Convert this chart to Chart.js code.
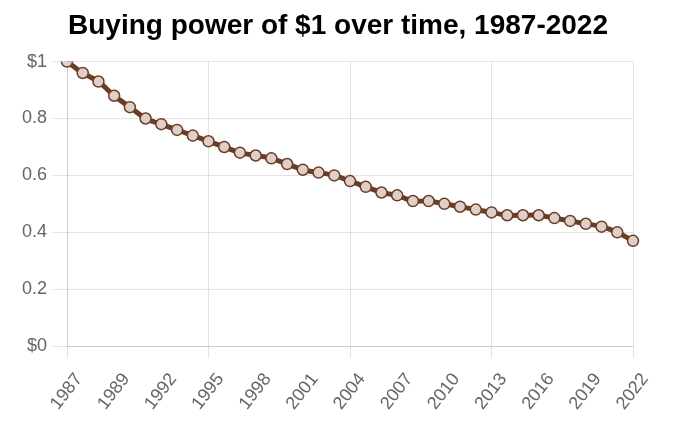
<!DOCTYPE html>
<html>
<head>
<meta charset="utf-8">
<script src="https://cdn.jsdelivr.net/npm/chart.js@4.4.0/dist/chart.umd.min.js"></script>
<style>
  html, body { margin: 0; padding: 0; background: #fff; }
  #wrap { width: 680px; height: 431px; }
</style>
</head>
<body>
<div id="wrap"><canvas id="chart"></canvas></div>
<script>
// x labels as used by the source chart (37 points, every 3rd labelled)
const years = ['1987', '1987', '1988', '1989', '1990', '1991', '1992', '1993', '1994', '1995',
  '1996', '1997', '1998', '1999', '2000', '2001', '2002', '2003', '2004', '2005',
  '2006', '2007', '2008', '2009', '2010', '2011', '2012', '2013', '2014', '2015',
  '2016', '2017', '2018', '2019', '2020', '2021', '2022'];

// value of one dollar
const buyingPower = [1.00, 0.96, 0.93, 0.88, 0.84, 0.80, 0.78, 0.76, 0.74, 0.72,
  0.70, 0.68, 0.67, 0.66, 0.64, 0.62, 0.61, 0.60, 0.58, 0.56,
  0.54, 0.53, 0.51, 0.51, 0.50, 0.49, 0.48, 0.47, 0.46, 0.46,
  0.46, 0.45, 0.44, 0.43, 0.42, 0.40, 0.37];

const yTicks = [0, 0.2, 0.4, 0.6, 0.8, 1];

const brown = '#6a3d27';
const gridColor = 'rgba(0,0,0,0.11)';
const font = 'Liberation Sans, Arial, sans-serif';

// title in the source sits a little right of the canvas centre
const nudgeTitle = {
  id: 'nudgeTitle',
  afterLayout: chart => { if (chart.titleBlock) chart.titleBlock.left += 24; }
};

const ctx = document.getElementById('chart').getContext('2d');
new Chart(ctx, {
  type: 'line',
  data: {
    labels: years,
    datasets: [{
      label: 'Buying power',
      data: buyingPower,
      borderColor: brown,
      borderWidth: 5,
      pointRadius: 5.5,
      pointBorderWidth: 1.5,
      pointBorderColor: brown,
      pointBackgroundColor: '#e0cec8',
      tension: 0.3
    }]
  },
  plugins: [nudgeTitle],
  options: {
    responsive: true,
    maintainAspectRatio: false,
    animation: false,
    layout: { padding: { left: 19, right: 47, top: 4, bottom: 6 } },
    plugins: {
      legend: { display: false },
      tooltip: { enabled: false },
      title: {
        display: true,
        text: 'Buying power of $1 over time, 1987-2022',
        color: '#000',
        font: { family: font, size: 28, weight: 'bold' },
        padding: { top: 5, bottom: 19 }
      }
    },
    scales: {
      x: {
        afterFit: s => { s.paddingLeft = 0; s.paddingRight = 0; },
        grid: {
          color: c => (c.index % 3 === 0 ? gridColor : 'transparent'),
          tickColor: c => (c.index % 3 === 0 ? gridColor : 'transparent'),
          tickLength: 12
        },
        border: { color: gridColor },
        ticks: {
          autoSkip: false,
          minRotation: 52,
          maxRotation: 52,
          padding: 11,
          labelOffset: 12,
          color: '#666',
          font: { family: font, size: 18 },
          callback: function (v, i) { return i % 3 === 0 ? years[i] : null; }
        }
      },
      y: {
        min: yTicks[0],
        max: yTicks[yTicks.length - 1],
        afterFit: s => { s.width = 48; },
        grid: { color: gridColor, tickLength: 14 },
        border: { color: gridColor },
        afterBuildTicks: s => { s.ticks = yTicks.map(v => ({ value: v })); },
        ticks: {
          padding: 6,
          color: '#666',
          font: { family: font, size: 18 },
          callback: v => (v === 0 ? '$0' : v === 1 ? '$1' : v.toFixed(1))
        }
      }
    }
  }
});
</script>
</body>
</html>
